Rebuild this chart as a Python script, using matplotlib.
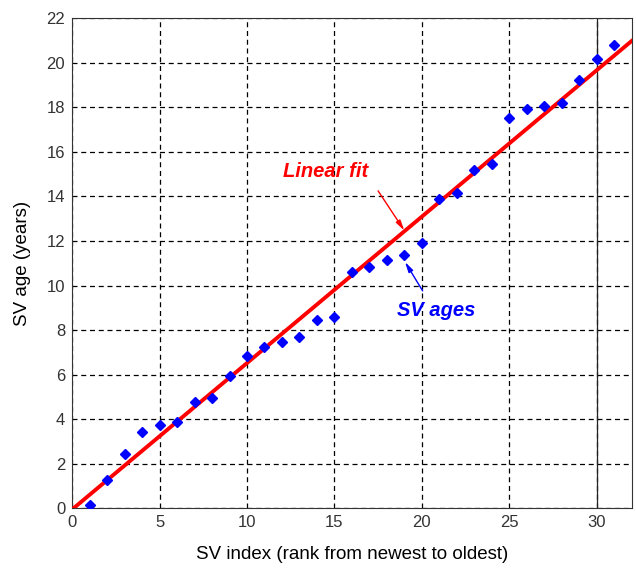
import matplotlib.pyplot as plt
import numpy as np

plt.rcParams['font.family'] = ['Liberation Sans', 'DejaVu Sans']

# SV index (rank) and SV age in years
sv_index = list(range(1, 32))
sv_age = [0.15, 1.27, 2.43, 3.44, 3.73, 3.88, 4.78, 4.93, 5.93, 6.83,
          7.22, 7.47, 7.70, 8.44, 8.59, 10.61, 10.81, 11.13, 11.36, 11.93,
          13.87, 14.15, 15.17, 15.47, 17.53, 17.91, 18.04, 18.19, 19.21, 20.19,
          20.79]

# linear fit coefficients (slope, intercept)
fit_coef = [0.657, -0.05]
fit_range = [0, 32]

fig = plt.figure(figsize=(6.36, 5.69), dpi=100)
ax = fig.add_axes([0.1135, 0.1067, 0.8795, 0.8613])

ax.set_xlim(0, 32)
ax.set_ylim(0, 22)
ax.set_xticks([0, 5, 10, 15, 20, 25, 30])
ax.set_yticks(range(0, 23, 2))

ax.grid(True, color='black', linestyle=(0, (4, 3)), linewidth=0.9)
ax.set_axisbelow(True)
# the x=30 grid line is solid in the original
ax.axvline(30, color='#222222', linewidth=0.9, zorder=1)

xs_fit = np.array(fit_range)
ax.plot(xs_fit, np.polyval(fit_coef, xs_fit), color='red', linewidth=2.8, zorder=3)
ax.plot(sv_index, sv_age, linestyle='none', marker='D', markersize=5,
        color='blue', zorder=4)

# annotations
ax.text(14.5, 15.1, 'Linear fit', color='red', fontsize=14.5,
        fontweight='bold', fontstyle='italic', ha='center', va='center')
ax.annotate('', xy=(19.0, 12.47), xytext=(17.5, 14.25),
            arrowprops=dict(arrowstyle='-|>,head_length=0.6,head_width=0.15',
                            color='red', lw=1, shrinkA=0, shrinkB=0))
ax.text(20.8, 8.9, 'SV ages', color='blue', fontsize=14.5,
        fontweight='bold', fontstyle='italic', ha='center', va='center')
ax.annotate('', xy=(19.04, 11.06), xytext=(20.05, 9.76),
            arrowprops=dict(arrowstyle='-|>,head_length=0.6,head_width=0.15',
                            color='blue', lw=1, shrinkA=0, shrinkB=0))

ax.tick_params(labelsize=12, colors='#333333', length=0, pad=5)
for side in ['top', 'right', 'left', 'bottom']:
    ax.spines[side].set_color('#333333')

ax.set_xlabel('SV index (rank from newest to oldest)', fontsize=13.5, labelpad=11)
ax.set_ylabel('SV age (years)', fontsize=13.5, labelpad=11)

fig.savefig('out.png', dpi=100)
